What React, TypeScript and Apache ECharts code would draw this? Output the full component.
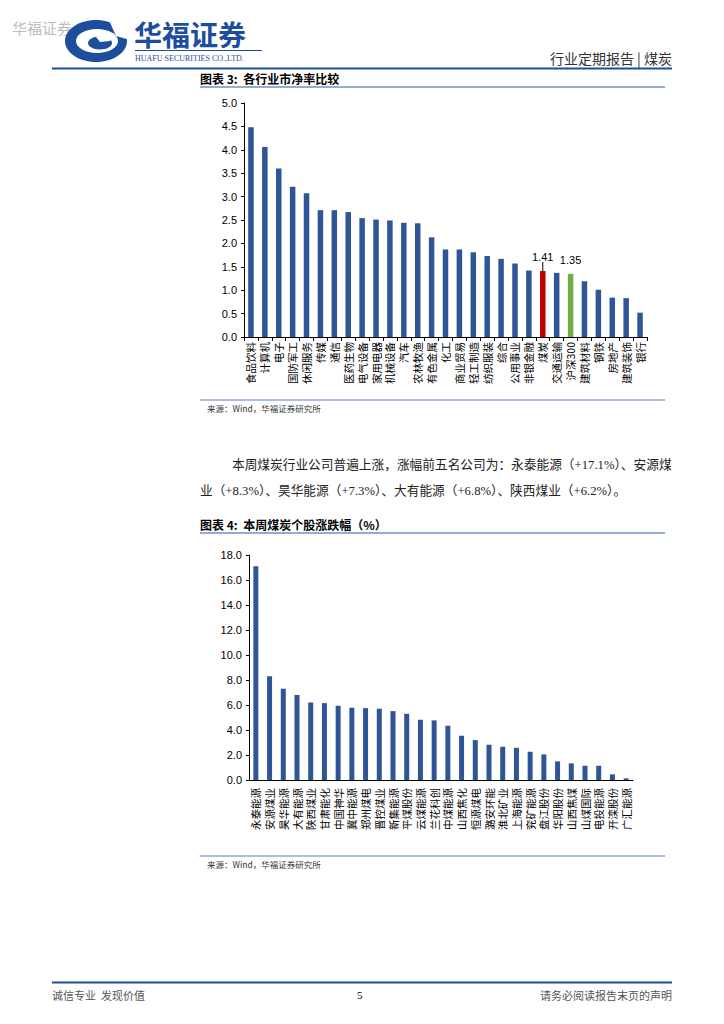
import React, { useEffect, useRef } from "react";
import * as echarts from "echarts";

const W = 724;
const H = 1024;

// Chart 1: 各行业市净率
const industries = [
  "食品饮料", "计算机", "电子", "国防军工", "休闲服务", "传媒", "通信", "医药生物",
  "电气设备", "家用电器", "机械设备", "汽车", "农林牧渔", "有色金属", "化工", "商业贸易",
  "轻工制造", "纺织服装", "综合", "公用事业", "非银金融", "煤炭", "交通运输", "沪深300",
  "建筑材料", "钢铁", "房地产", "建筑装饰", "银行",
];
const pbValues = [
  4.48, 4.06, 3.6, 3.21, 3.07, 2.71, 2.71, 2.67, 2.54, 2.51, 2.49, 2.44, 2.43, 2.13, 1.87,
  1.87, 1.81, 1.73, 1.67, 1.57, 1.42, 1.41, 1.37, 1.35, 1.19, 1.01, 0.84, 0.83, 0.52,
];
const redName = "煤炭";
const greenName = "沪深300";
const pbTicks = { min: 0, max: 5, interval: 0.5 };

// Chart 2: 本周煤炭个股涨跌幅
const stocks = [
  "永泰能源", "安源煤业", "昊华能源", "大有能源", "陕西煤业", "甘肃能化", "中国神华", "冀中能源",
  "郑州煤电", "晋控煤业", "新集能源", "平煤股份", "云煤能源", "兰花科创", "中煤能源", "山西焦化",
  "恒源煤电", "潞安环能", "淮北矿业", "上海能源", "兖矿能源", "盘江股份", "华阳股份", "山西焦煤",
  "山煤国际", "电投能源", "开滦股份", "广汇能源",
];
const changeValues = [
  17.1, 8.3, 7.3, 6.8, 6.2, 6.15, 5.94, 5.78, 5.75, 5.7, 5.51, 5.3, 4.82, 4.77, 4.34, 3.54,
  3.19, 2.82, 2.66, 2.58, 2.26, 2.05, 1.49, 1.33, 1.14, 1.14, 0.45, 0.13,
];
const changeTicks = { min: 0, max: 18, interval: 2 };

const BLUE = "#2F5597";
const CJK = "Noto Sans CJK SC";
const NUM = "Liberation Sans";

export default function App() {
  const ref = useRef<HTMLDivElement>(null);

  useEffect(() => {
    if (!ref.current) return;
    const chart = echarts.init(ref.current, null, { renderer: "svg", width: W, height: H });

    const redIdx = industries.indexOf(redName);
    const greenIdx = industries.indexOf(greenName);

    const pbData = pbValues.map((v, i) => {
      if (i === redIdx) {
        return {
          value: v,
          itemStyle: { color: "#C00000" },
          label: { show: true, position: "top", distance: 3, formatter: "{c}", fontSize: 11, color: "#000", fontFamily: NUM },
          labelLine: { show: true, lineStyle: { color: "#000", width: 1 } },
        };
      }
      if (i === greenIdx) {
        return {
          value: v,
          itemStyle: { color: "#70AD47" },
          label: { show: true, position: "top", distance: 8, formatter: "{c}", fontSize: 11, color: "#000", fontFamily: NUM },
        };
      }
      return { value: v };
    });

    const txt = (
      text: string,
      x: number,
      y: number,
      size: number,
      fill: string,
      extra: Record<string, any> = {}
    ) => ({
      type: "text",
      x,
      y,
      silent: true,
      style: {
        text,
        fontSize: size,
        fontFamily: extra.fontFamily || CJK,
        fontWeight: extra.fontWeight || "normal",
        fill,
        align: extra.align || "left",
        verticalAlign: "middle",
        lineHeight: size,
      },
    });
    const ln = (x1: number, y1: number, x2: number, y2: number, stroke: string, lw: number) => ({
      type: "line",
      silent: true,
      shape: { x1, y1, x2, y2 },
      style: { stroke, lineWidth: lw },
    });

    const LOGO = "#1D4E9E";

    const graphic: any[] = [
      // watermark
      txt("华福证券", 12, 27, 15, "#BDBDBD"),
      // logo swirl
      { type: "ellipse", shape: { cx: 96, cy: 41, rx: 31, ry: 21 }, style: { fill: LOGO } },
      { type: "ellipse", shape: { cx: 97, cy: 41, rx: 21, ry: 12 }, style: { fill: "#fff" } },
      { type: "polygon", shape: { points: [[108, 18], [130, 18], [130, 40], [116, 36]] }, style: { fill: "#fff" } },
      { type: "ellipse", shape: { cx: 100, cy: 43, rx: 12, ry: 6.5 }, style: { fill: LOGO } },
      { type: "polygon", shape: { points: [[96, 37], [114, 33], [110, 41], [100, 42]] }, style: { fill: "#fff" } },
      txt("华福证券", 134, 34, 28, LOGO, { fontWeight: "bold" }),
      ln(135, 50.5, 262, 50.5, LOGO, 1),
      txt("HUAFU SECURITIES CO.,LTD.", 135, 58, 8, LOGO, { fontFamily: "Liberation Serif" }),
      // header right
      txt("行业定期报告 | 煤炭", 672, 58, 14, "#333", { align: "right" }),
      ln(52, 68.5, 672, 68.5, "#1F4E9A", 2),
      // chart 1 title
      txt("图表 3:  各行业市净率比较", 200, 78, 12, "#000", { fontWeight: "bold" }),
      ln(200, 87, 665, 87, "#6F8FCB", 1.5),
      // chart 1 source
      ln(200, 400, 665, 400, "#8EA9DB", 1.5),
      txt("来源：Wind，华福证券研究所", 207, 408, 8.5, "#333"),
      // paragraph
      txt("本周煤炭行业公司普遍上涨，涨幅前五名公司为：永泰能源（+17.1%）、安源煤", 232, 465, 12.7, "#222", { fontFamily: "Liberation Serif, " + CJK }),
      txt("业（+8.3%）、昊华能源（+7.3%）、大有能源（+6.8%）、陕西煤业（+6.2%）。", 200, 491, 12.7, "#222", { fontFamily: "Liberation Serif, " + CJK }),
      // chart 2 title
      txt("图表 4:  本周煤炭个股涨跌幅（%）", 200, 524, 12, "#000", { fontWeight: "bold" }),
      ln(200, 533, 665, 533, "#6F8FCB", 1.5),
      // chart 2 source
      ln(200, 856, 665, 856, "#8EA9DB", 1.5),
      txt("来源：Wind，华福证券研究所", 207, 864, 8.5, "#333"),
      // footer
      ln(52, 982.5, 672, 982.5, "#1F4E9A", 2),
      txt("诚信专业  发现价值", 52, 995, 11, "#555"),
      txt("5", 357, 995, 11, "#000", { fontFamily: "Liberation Serif" }),
      txt("请务必阅读报告末页的声明", 672, 995, 11, "#555", { align: "right" }),
    ];

    const catAxis = (gridIndex: number, data: string[], ticks: boolean, margin: number, fs: number) => ({
      type: "category",
      gridIndex,
      data,
      boundaryGap: true,
      axisLine: { show: true, lineStyle: { color: "#000", width: 1 } },
      axisTick: { show: ticks, length: 4, alignWithLabel: false, lineStyle: { color: "#000" } },
      axisLabel: { interval: 0, rotate: 90, fontSize: fs, color: "#000", margin, fontFamily: CJK },
      splitLine: { show: false },
    });
    const valAxis = (gridIndex: number, t: { min: number; max: number; interval: number }, margin: number) => ({
      type: "value",
      gridIndex,
      min: t.min,
      max: t.max,
      interval: t.interval,
      axisLine: { show: true, lineStyle: { color: "#000", width: 1 } },
      axisTick: { show: true, length: 3, lineStyle: { color: "#000" } },
      splitLine: { show: false },
      axisLabel: {
        formatter: (v: number) => v.toFixed(1),
        fontSize: 11,
        color: "#000",
        fontFamily: NUM,
        margin,
      },
    });

    const option: any = {
      animation: false,
      backgroundColor: "#fff",
      textStyle: { fontFamily: CJK },
      grid: [
        { left: 244, top: 103, width: 403, height: 234, containLabel: false },
        { left: 249, top: 555, width: 384, height: 225, containLabel: false },
      ],
      xAxis: [catAxis(0, industries, true, 5, 10.5), catAxis(1, stocks, false, 8, 10.5)],
      yAxis: [valAxis(0, pbTicks, 7), valAxis(1, changeTicks, 7)],
      series: [
        {
          type: "bar",
          xAxisIndex: 0,
          yAxisIndex: 0,
          data: pbData,
          barWidth: 5.5,
          itemStyle: { color: BLUE },
          labelLayout: (p: any) => (p.dataIndex === redIdx ? { dy: -6 } : {}),
        },
        {
          type: "bar",
          xAxisIndex: 1,
          yAxisIndex: 1,
          data: changeValues,
          barWidth: 5,
          itemStyle: { color: BLUE },
        },
      ],
      graphic,
    };

    chart.setOption(option);
    return () => chart.dispose();
  }, []);

  return (
    <div
      ref={ref}
      style={{ position: "absolute", left: 0, top: 0, width: W, height: H, background: "#fff" }}
    />
  );
}
